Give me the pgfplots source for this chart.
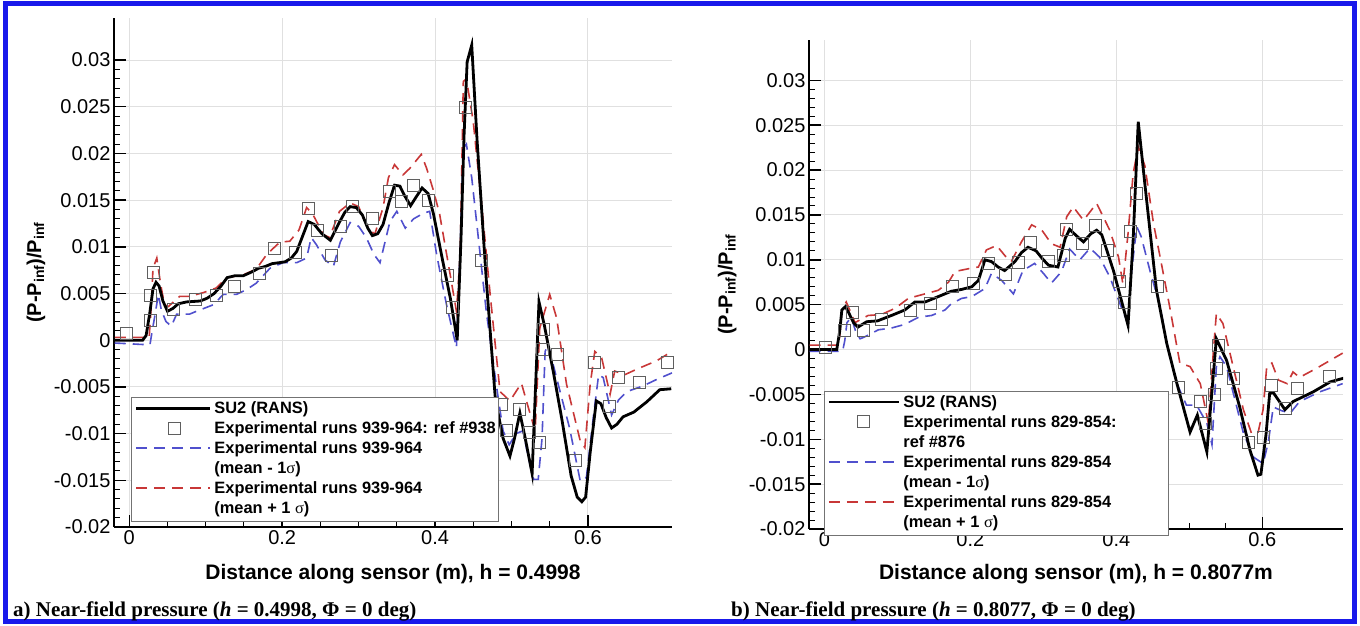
\documentclass[border=0pt]{standalone}
\usepackage{pgfplots}
\pgfplotsset{compat=1.18}
\usepackage{fontspec}
\setmainfont{Liberation Sans}
\newfontfamily\serifb{Liberation Serif}
\definecolor{frameblue}{RGB}{25,25,235}
\definecolor{bluedash}{RGB}{80,80,205}
\definecolor{reddash}{RGB}{200,55,55}
\definecolor{sqgray}{RGB}{95,95,95}
\newcommand{\sig}{{\serifb\mdseries σ}}
\newcommand{\lent}[1]{\begin{tabular}[t]{@{}l@{}}#1\end{tabular}}

\pgfplotsset{
  leglineL/.style={legend image code/.code={\draw[##1] (0pt,5.5pt) -- (74pt,5.5pt);}},
  leglineR/.style={legend image code/.code={\draw[##1] (0pt,5.5pt) -- (70pt,5.5pt);}},
  legsqL/.style={legend image code/.code={\draw[##1] plot coordinates {(38pt,5.5pt)};}},
  legsqR/.style={legend image code/.code={\draw[##1] plot coordinates {(35pt,5.5pt)};}},
  tecplot/.style={
    scale only axis,
    axis lines*=left,
    axis line style={line width=2.5pt, black},
    tick align=inside,
    major tick length=12pt,
    minor tick length=6pt,
    every tick/.style={black, line width=1.5pt},
    minor tick style={line width=1pt},
    grid=major,
    major grid style={black!12, line width=1pt},
    xtick={0,0.2,0.4,0.6},
    ytick={-0.02,-0.015,-0.01,-0.005,0,0.005,0.01,0.015,0.02,0.025,0.03},
    minor x tick num=3,
    minor y tick num=4,
    scaled ticks=false,
    /pgf/number format/assume math mode=true,
    xticklabel style={font=\fontsize{20}{24}\selectfont, /pgf/number format/fixed, /pgf/number format/precision=3},
    yticklabel style={font=\fontsize{20}{24}\selectfont, /pgf/number format/fixed, /pgf/number format/precision=3},
    xlabel style={font=\fontsize{21}{25}\selectfont\bfseries, at={(axis description cs:0.5,0)}, anchor=center},
    ylabel style={font=\fontsize{20}{24}\selectfont\bfseries, anchor=center, rotate=0},
    legend style={draw=black!55, line width=1.2pt, fill=white,
      font=\fontsize{16.4}{20}\selectfont\bfseries, anchor=north west,
      inner xsep=3pt, inner ysep=2pt, row sep=0pt, column sep=3pt,
      cells={anchor=base west}, nodes={inner sep=0pt, text depth=}},
    ymin=-0.02, ymax=0.0345,
  },
  su2/.style={black, line width=2.8pt, solid},
  lo/.style={bluedash, line width=1.6pt, dash pattern=on 11pt off 7pt},
  hi/.style={reddash, line width=1.6pt, dash pattern=on 11pt off 7pt},
  sq/.style={only marks, mark=square, mark size=6pt, mark options={sqgray, line width=1pt, solid}},
}

\begin{document}
\begin{tikzpicture}
\useasboundingbox (0pt,0pt) rectangle (1360pt,625pt);
\draw[frameblue, line width=5pt] (5pt,4pt) rectangle (1354pt,621pt);

% ---------------- left panel ----------------
\begin{axis}[tecplot, leglineL,
  at={(114pt,98pt)}, anchor=south west,
  width=558pt, height=509pt,
  xmin=-0.02, xmax=0.71,
  xlabel={Distance along sensor (m), h = 0.4998},
  ylabel={(P-P\textsubscript{inf})/P\textsubscript{inf}},
  xlabel style={yshift=-47pt},
  ylabel style={at={(axis description cs:-0.14,0.5)}},
  legend style={at={(axis cs:0.0023,-0.0061)}},
]
\addlegendimage{su2}
\addlegendentry{\lent{SU2 (RANS)}}
\addlegendimage{sq, legsqL}
\addlegendentry{\lent{Experimental runs 939-964: ref \#938}}
\addlegendimage{lo}
\addlegendentry{\lent{Experimental runs 939-964\\(mean - 1\sig)}}
\addlegendimage{hi}
\addlegendentry{\lent{Experimental runs 939-964\\(mean + 1 \sig)}}

\addplot[lo, forget plot] coordinates {
(-0.019,-0.0003) (0.027,-0.0005) (0.030,0.0010) (0.033,0.0024) (0.038,0.0049) (0.042,0.0032) (0.048,0.0020) (0.055,0.0015) (0.062,0.0028) (0.079,0.0028) (0.088,0.0031) (0.110,0.0038) (0.123,0.0049) (0.140,0.0049) (0.153,0.0054) (0.166,0.0061) (0.184,0.0077) (0.201,0.0083) (0.219,0.0083) (0.232,0.0088) (0.238,0.0110) (0.245,0.0102) (0.256,0.0086) (0.267,0.0079) (0.276,0.0105) (0.289,0.0126) (0.300,0.0122) (0.310,0.0110) (0.320,0.0092) (0.328,0.0083) (0.341,0.0127) (0.350,0.0138) (0.361,0.0120) (0.372,0.0130) (0.385,0.0136) (0.393,0.0138) (0.402,0.0092) (0.415,0.0038) (0.428,-0.0008) (0.433,0.0100) (0.437,0.0206) (0.441,0.0210) (0.448,0.0174) (0.459,0.0092) (0.467,0.0031) (0.480,-0.0047) (0.489,-0.0097) (0.497,-0.0112) (0.506,-0.0100) (0.515,-0.0097) (0.522,-0.0125) (0.529,-0.0149) (0.535,-0.0149) (0.540,-0.0105) (0.544,-0.0012) (0.548,-0.0005) (0.562,-0.0050) (0.576,-0.0094) (0.590,-0.0151) (0.598,-0.0147) (0.607,-0.0083) (0.614,-0.0037) (0.620,-0.0040) (0.631,-0.0080) (0.640,-0.0064) (0.651,-0.0055) (0.672,-0.0049) (0.690,-0.0042) (0.710,-0.0035)
};
\addplot[hi, forget plot] coordinates {
(-0.019,0.0003) (0.026,0.0003) (0.029,0.0040) (0.031,0.0077) (0.036,0.0088) (0.041,0.0060) (0.046,0.0038) (0.051,0.0036) (0.066,0.0047) (0.079,0.0047) (0.097,0.0051) (0.114,0.0056) (0.127,0.0067) (0.149,0.0070) (0.166,0.0076) (0.180,0.0092) (0.197,0.0105) (0.210,0.0106) (0.222,0.0118) (0.232,0.0142) (0.240,0.0135) (0.254,0.0113) (0.262,0.0110) (0.275,0.0138) (0.289,0.0147) (0.300,0.0143) (0.310,0.0124) (0.321,0.0113) (0.332,0.0142) (0.339,0.0174) (0.347,0.0188) (0.358,0.0177) (0.367,0.0184) (0.382,0.0199) (0.389,0.0184) (0.398,0.0160) (0.406,0.0135) (0.419,0.0074) (0.428,0.0031) (0.433,0.0092) (0.437,0.0277) (0.441,0.0280) (0.450,0.0234) (0.461,0.0145) (0.472,0.0050) (0.485,-0.0055) (0.498,-0.0065) (0.513,-0.0046) (0.522,-0.0072) (0.531,-0.0097) (0.537,0.0013) (0.550,0.0049) (0.559,0.0024) (0.572,-0.0047) (0.590,-0.0108) (0.596,-0.0115) (0.603,-0.0047) (0.609,-0.0012) (0.618,-0.0019) (0.629,-0.0058) (0.635,-0.0033) (0.648,-0.0037) (0.664,-0.0031) (0.690,-0.0022) (0.710,-0.0012)
};
\addplot[sq, forget plot] coordinates {
(-0.004,0.0007) (0.028,0.0021) (0.028,0.0048) (0.032,0.0072) (0.058,0.0033) (0.086,0.0044) (0.114,0.0048) (0.137,0.0057) (0.171,0.0071) (0.19,0.0098) (0.217,0.0094) (0.235,0.0141) (0.246,0.0117) (0.264,0.0091) (0.276,0.0122) (0.292,0.0143) (0.318,0.0130) (0.340,0.0159) (0.356,0.0149) (0.372,0.0166) (0.392,0.0150) (0.416,0.0069) (0.423,0.0035) (0.440,0.0249) (0.461,0.0085) (0.487,-0.0069) (0.494,-0.0097) (0.511,-0.0074) (0.523,-0.0099) (0.537,-0.0110) (0.541,-0.0010) (0.542,0.0012) (0.560,-0.0015) (0.584,-0.0129) (0.608,-0.0024) (0.628,-0.0071) (0.640,-0.0040) (0.667,-0.0045) (0.704,-0.0024)
};
\addplot[su2, forget plot] coordinates {
(-0.019,0) (0.0175,0) (0.022,0.0005) (0.027,0.003) (0.031,0.0055) (0.035,0.0062) (0.039,0.0058) (0.044,0.0042) (0.05,0.0031) (0.057,0.0034) (0.064,0.0039) (0.075,0.0041) (0.093,0.0042) (0.102,0.0045) (0.111,0.005) (0.12,0.0058) (0.128,0.0067) (0.138,0.0069) (0.149,0.0069) (0.16,0.0073) (0.169,0.0077) (0.178,0.0079) (0.187,0.0082) (0.196,0.0083) (0.204,0.0084) (0.212,0.0088) (0.219,0.0095) (0.227,0.0112) (0.234,0.0127) (0.242,0.0124) (0.252,0.0114) (0.263,0.0107) (0.274,0.0125) (0.282,0.0137) (0.289,0.0143) (0.297,0.0142) (0.305,0.0134) (0.312,0.0120) (0.318,0.0112) (0.325,0.0114) (0.332,0.0124) (0.34,0.0148) (0.347,0.0166) (0.354,0.0165) (0.36,0.0155) (0.368,0.0144) (0.375,0.0153) (0.383,0.0163) (0.391,0.0157) (0.398,0.0135) (0.41,0.0085) (0.42,0.0045) (0.429,0.0) (0.434,0.011) (0.438,0.022) (0.442,0.0298) (0.448,0.0316) (0.455,0.0214) (0.467,0.0065) (0.479,-0.0064) (0.489,-0.0105) (0.498,-0.0124) (0.504,-0.0105) (0.511,-0.0078) (0.518,-0.0105) (0.527,-0.0143) (0.531,-0.006) (0.536,0.0041) (0.543,0.0016) (0.555,-0.0035) (0.566,-0.0085) (0.578,-0.0145) (0.586,-0.0168) (0.592,-0.0173) (0.597,-0.0168) (0.603,-0.012) (0.611,-0.0065) (0.617,-0.0068) (0.624,-0.0083) (0.631,-0.0094) (0.638,-0.009) (0.646,-0.0082) (0.66,-0.0077) (0.677,-0.0066) (0.694,-0.0053) (0.709,-0.0052)
};
\end{axis}

% ---------------- right panel ----------------
\begin{axis}[tecplot, leglineR,
  at={(809pt,96pt)}, anchor=south west,
  width=534pt, height=489pt,
  xmin=-0.021, xmax=0.7105,
  xlabel={Distance along sensor (m), h = 0.8077m},
  ylabel={(P-P\textsubscript{inf})/P\textsubscript{inf}},
  xlabel style={yshift=-45pt},
  ylabel style={at={(axis description cs:-0.153,0.5)}},
  legend style={at={(axis cs:-0.0005,-0.0046)}},
]
\addlegendimage{su2}
\addlegendentry{\lent{\makebox[262pt][l]{SU2 (RANS)}}}
\addlegendimage{sq, legsqR}
\addlegendentry{\lent{Experimental runs 829-854:\\ref \#876}}
\addlegendimage{lo}
\addlegendentry{\lent{Experimental runs 829-854\\(mean - 1\sig)}}
\addlegendimage{hi}
\addlegendentry{\lent{Experimental runs 829-854\\(mean + 1 \sig)}}

\addplot[lo, forget plot] coordinates {
(-0.02,-0.0002) (0.025,-0.0002) (0.028,0.0010) (0.031,0.0030) (0.037,0.0036) (0.043,0.0020) (0.049,0.0012) (0.055,0.0014) (0.074,0.0022) (0.092,0.0024) (0.110,0.0028) (0.129,0.0036) (0.147,0.0038) (0.165,0.0044) (0.174,0.0051) (0.188,0.0057) (0.202,0.0059) (0.220,0.0068) (0.229,0.0085) (0.243,0.0077) (0.259,0.0062) (0.272,0.0088) (0.288,0.0096) (0.300,0.0085) (0.311,0.0074) (0.325,0.0087) (0.336,0.0112) (0.350,0.0100) (0.364,0.0113) (0.377,0.0103) (0.391,0.0081) (0.405,0.0051) (0.416,0.0029) (0.420,0.0081) (0.428,0.0137) (0.434,0.0126) (0.446,0.0088) (0.460,0.0048) (0.469,0.0007) (0.483,-0.0038) (0.496,-0.0062) (0.510,-0.0062) (0.524,-0.0082) (0.531,-0.0106) (0.537,-0.0019) (0.542,-0.0008) (0.551,-0.0019) (0.574,-0.0093) (0.588,-0.0120) (0.601,-0.0127) (0.608,-0.0104) (0.615,-0.0064) (0.626,-0.0068) (0.638,-0.0071) (0.651,-0.0058) (0.679,-0.0047) (0.710,-0.0038)
};
\addplot[hi, forget plot] coordinates {
(-0.02,0.0005) (0.020,0.0005) (0.024,0.0044) (0.030,0.0053) (0.037,0.0040) (0.042,0.0030) (0.060,0.0038) (0.078,0.0039) (0.097,0.0046) (0.115,0.0057) (0.133,0.0061) (0.156,0.0066) (0.170,0.0075) (0.179,0.0087) (0.197,0.0090) (0.211,0.0092) (0.222,0.0111) (0.236,0.0116) (0.247,0.0105) (0.256,0.0098) (0.270,0.0120) (0.284,0.0139) (0.298,0.0133) (0.311,0.0118) (0.323,0.0114) (0.332,0.0148) (0.341,0.0159) (0.355,0.0144) (0.373,0.0163) (0.391,0.0133) (0.403,0.0103) (0.409,0.0073) (0.416,0.0129) (0.423,0.0196) (0.430,0.0226) (0.439,0.0205) (0.451,0.0140) (0.460,0.0103) (0.473,0.0048) (0.487,-0.0015) (0.501,-0.0019) (0.515,-0.0038) (0.526,-0.0082) (0.533,-0.0001) (0.537,0.0040) (0.546,0.0029) (0.560,-0.0019) (0.574,-0.0067) (0.585,-0.0093) (0.594,-0.0093) (0.601,-0.0067) (0.606,-0.0019) (0.613,-0.0015) (0.622,-0.0034) (0.634,-0.0038) (0.642,-0.0025) (0.651,-0.0031) (0.674,-0.0021) (0.710,-0.0004)
};
\addplot[sq, forget plot] coordinates {
(0.001,0.0002) (0.028,0.0021) (0.038,0.0041) (0.053,0.0021) (0.078,0.0034) (0.118,0.0044) (0.146,0.0051) (0.175,0.0070) (0.205,0.0074) (0.225,0.0096) (0.248,0.0084) (0.266,0.0097) (0.282,0.0119) (0.307,0.0098) (0.328,0.0105) (0.332,0.0134) (0.353,0.0118) (0.372,0.0138) (0.388,0.0110) (0.404,0.0076) (0.411,0.0052) (0.420,0.0132) (0.428,0.0174) (0.457,0.0070) (0.485,-0.0042) (0.515,-0.0058) (0.522,-0.0082) (0.535,-0.0050) (0.537,-0.0021) (0.540,0.0004) (0.561,-0.0032) (0.581,-0.0104) (0.601,-0.0098) (0.612,-0.0040) (0.632,-0.0066) (0.648,-0.0043) (0.692,-0.0030)
};
\addplot[su2, forget plot] coordinates {
(-0.02,0) (0.017,0) (0.021,0.002) (0.024,0.0044) (0.029,0.0048) (0.034,0.0040) (0.040,0.0030) (0.046,0.0025) (0.058,0.0031) (0.073,0.0032) (0.092,0.0038) (0.110,0.0044) (0.124,0.0053) (0.138,0.0053) (0.156,0.0059) (0.174,0.0065) (0.188,0.0067) (0.202,0.0070) (0.211,0.0077) (0.220,0.0100) (0.229,0.0098) (0.238,0.0092) (0.247,0.0088) (0.261,0.0098) (0.270,0.0108) (0.279,0.0114) (0.290,0.0110) (0.299,0.0101) (0.307,0.0094) (0.320,0.0092) (0.330,0.0124) (0.336,0.0134) (0.345,0.0127) (0.355,0.0120) (0.365,0.0129) (0.373,0.0133) (0.380,0.0128) (0.396,0.0088) (0.416,0.0027) (0.423,0.0122) (0.430,0.0254) (0.439,0.0185) (0.455,0.0066) (0.469,0.0007) (0.483,-0.0038) (0.501,-0.0092) (0.511,-0.0073) (0.524,-0.0114) (0.537,0.0012) (0.551,-0.0012) (0.569,-0.0064) (0.583,-0.0112) (0.594,-0.0140) (0.598,-0.0139) (0.605,-0.0095) (0.610,-0.0049) (0.615,-0.0048) (0.631,-0.0067) (0.642,-0.0058) (0.670,-0.0047) (0.693,-0.0036) (0.711,-0.0032)
};
\end{axis}

% captions
\node[anchor=base west, inner sep=0pt, font=\serifb\bfseries\fontsize{21}{24}\selectfont] at (13pt,9pt)
  {a) Near-field pressure (\textit{h} = 0.4998, Φ = 0 deg)};
\node[anchor=base west, inner sep=0pt, font=\serifb\bfseries\fontsize{21}{24}\selectfont] at (731pt,9pt)
  {b) Near-field pressure (\textit{h} = 0.8077, Φ = 0 deg)};
\end{tikzpicture}
\end{document}
